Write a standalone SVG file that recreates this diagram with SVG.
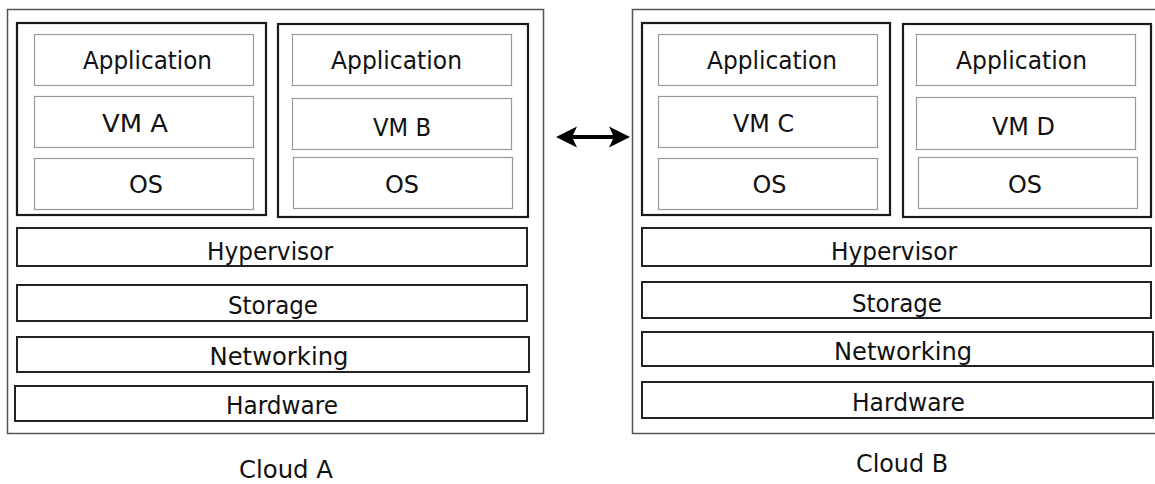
<svg xmlns="http://www.w3.org/2000/svg" width="1155" height="484" viewBox="0 0 1155 484">
<style>
  .cloud { fill: #fff; stroke: #555; stroke-width: 1.5; }
  .vm { fill: none; stroke: #1a1a1a; stroke-width: 2.2; }
  .inner { fill: #fff; stroke: #999; stroke-width: 1.2; }
  .layer { fill: #fff; stroke: #222; stroke-width: 2; }
  text { font-family: "DejaVu Sans", Verdana, sans-serif; font-size: 25px; fill: #111; text-anchor: middle; }
  .arrow { fill: #000; }
</style>
<rect width="1155" height="484" fill="#fff"/>

<g id="cloud-a">
  <rect class="cloud" x="7.5" y="9.5" width="536" height="424"/>
  <g id="vm-a">
    <rect class="vm" x="17" y="23" width="249" height="192"/>
    <rect class="inner" x="34.5" y="34.5" width="219" height="51"/>
    <text x="147.5" y="69" textLength="129" lengthAdjust="spacingAndGlyphs">Application</text>
    <rect class="inner" x="34.5" y="96.5" width="219" height="51"/>
    <text x="135" y="132" textLength="66" lengthAdjust="spacingAndGlyphs">VM A</text>
    <rect class="inner" x="34.5" y="158.5" width="219" height="51"/>
    <text x="146" y="193" textLength="34" lengthAdjust="spacingAndGlyphs">OS</text>
  </g>
  <g id="vm-b">
    <rect class="vm" x="278" y="24" width="250" height="193"/>
    <rect class="inner" x="292.5" y="34.5" width="219" height="51"/>
    <text x="396.5" y="69" textLength="131" lengthAdjust="spacingAndGlyphs">Application</text>
    <rect class="inner" x="292.5" y="98.5" width="219" height="51"/>
    <text x="402" y="136" textLength="58" lengthAdjust="spacingAndGlyphs">VM B</text>
    <rect class="inner" x="293.5" y="157.5" width="219" height="51"/>
    <text x="402" y="193" textLength="34" lengthAdjust="spacingAndGlyphs">OS</text>
  </g>
  <g id="hypervisor-a">
    <rect class="layer" x="17" y="228" width="510" height="38"/>
    <text x="270" y="260" textLength="126" lengthAdjust="spacingAndGlyphs">Hypervisor</text>
  </g>
  <g id="storage-a">
    <rect class="layer" x="17" y="285" width="510" height="36"/>
    <text x="273" y="314" textLength="90" lengthAdjust="spacingAndGlyphs">Storage</text>
  </g>
  <g id="networking-a">
    <rect class="layer" x="17" y="337" width="512" height="35"/>
    <text x="279" y="365" textLength="139" lengthAdjust="spacingAndGlyphs">Networking</text>
  </g>
  <g id="hardware-a">
    <rect class="layer" x="15" y="386" width="512" height="35"/>
    <text x="282" y="414" textLength="112" lengthAdjust="spacingAndGlyphs">Hardware</text>
  </g>
  <text x="286" y="478" textLength="94" lengthAdjust="spacingAndGlyphs">Cloud A</text>
</g>

<g id="cloud-b">
  <rect class="cloud" x="632.5" y="9.5" width="540" height="424"/>
  <g id="vm-c">
    <rect class="vm" x="642" y="23" width="248" height="192"/>
    <rect class="inner" x="658.5" y="34.5" width="219" height="51"/>
    <text x="772" y="69" textLength="130" lengthAdjust="spacingAndGlyphs">Application</text>
    <rect class="inner" x="658.5" y="96.5" width="219" height="51"/>
    <text x="763.5" y="132" textLength="61" lengthAdjust="spacingAndGlyphs">VM C</text>
    <rect class="inner" x="658.5" y="158.5" width="219" height="51"/>
    <text x="769.5" y="193" textLength="34" lengthAdjust="spacingAndGlyphs">OS</text>
  </g>
  <g id="vm-d">
    <rect class="vm" x="903" y="24" width="248" height="193"/>
    <rect class="inner" x="916.5" y="34.5" width="219" height="51"/>
    <text x="1021.5" y="69" textLength="131" lengthAdjust="spacingAndGlyphs">Application</text>
    <rect class="inner" x="916.5" y="97.5" width="219" height="52"/>
    <text x="1023.5" y="135" textLength="63" lengthAdjust="spacingAndGlyphs">VM D</text>
    <rect class="inner" x="918.5" y="157.5" width="219" height="51"/>
    <text x="1025" y="193" textLength="34" lengthAdjust="spacingAndGlyphs">OS</text>
  </g>
  <g id="hypervisor-b">
    <rect class="layer" x="642" y="228" width="509" height="38"/>
    <text x="894" y="260" textLength="126" lengthAdjust="spacingAndGlyphs">Hypervisor</text>
  </g>
  <g id="storage-b">
    <rect class="layer" x="642" y="282" width="509" height="36"/>
    <text x="897" y="312" textLength="90" lengthAdjust="spacingAndGlyphs">Storage</text>
  </g>
  <g id="networking-b">
    <rect class="layer" x="642" y="332" width="511" height="34"/>
    <text x="903" y="360" textLength="138" lengthAdjust="spacingAndGlyphs">Networking</text>
  </g>
  <g id="hardware-b">
    <rect class="layer" x="642" y="382" width="511" height="36"/>
    <text x="908.5" y="411" textLength="113" lengthAdjust="spacingAndGlyphs">Hardware</text>
  </g>
  <text x="902" y="472" textLength="92" lengthAdjust="spacingAndGlyphs">Cloud B</text>
</g>

<g id="connectors">
  <polygon class="arrow" points="556,137 577,126.5 573,135 613,135 609,126.5 630,137 609,147.5 613,139 573,139 577,147.5"/>
</g>
</svg>
